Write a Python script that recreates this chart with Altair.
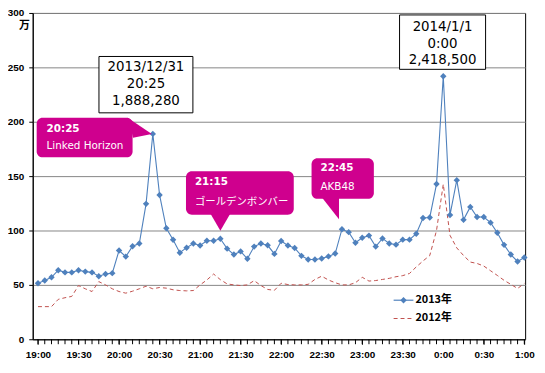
import json
import altair as alt
import pandas as pd

# ---------------- data ----------------
tick_labels = ["19:00", "19:30", "20:00", "20:30", "21:00", "21:30", "22:00",
               "22:30", "23:00", "23:30", "0:00", "0:30", "1:00"]
minutes = list(range(0, 361, 5))  # 19:00 .. 1:00 every 5 minutes
label_minutes = list(range(0, 361, 30))

v2013 = [51.5, 54.0, 57.0, 63.5, 61.5, 61.5, 63.5, 62.2, 61.5, 58.0,
         60.0, 60.8, 81.6, 76.0, 85.5, 88.0, 124.5, 188.8, 132.7, 102.0,
         91.5, 79.5, 84.2, 88.0, 86.2, 90.6, 90.6, 92.4, 83.3, 77.9,
         80.8, 74.0, 85.2, 88.0, 86.4, 78.5, 90.4, 86.2, 83.9, 76.7,
         73.3, 73.4, 74.3, 76.2, 78.8, 101.2, 98.5, 88.8, 93.3, 95.3,
         85.2, 92.7, 88.0, 87.0, 91.6, 91.6, 97.0, 111.5, 112.0, 142.7,
         241.85, 114.3, 146.3, 109.8, 121.7, 112.4, 112.4, 107.2, 97.9, 86.8,
         77.9, 71.5, 75.2]

v2012 = [30.0, 30.0, 30.0, 36.7, 38.2, 39.4, 49.4, 46.4, 43.9, 53.0,
         50.0, 46.4, 43.9, 42.4, 44.2, 46.4, 48.8, 46.4, 47.6, 47.0,
         45.5, 44.8, 44.5, 44.8, 50.0, 54.5, 60.0, 54.8, 50.9, 50.0,
         49.4, 50.0, 53.9, 49.4, 45.8, 45.0, 51.5, 50.3, 50.0, 50.0,
         50.5, 55.0, 58.0, 54.5, 52.0, 50.0, 50.0, 52.0, 57.0, 53.5,
         54.0, 55.0, 56.0, 57.5, 58.5, 60.5, 66.5, 72.0, 77.0, 100.0,
         142.5, 95.5, 84.0, 77.0, 71.0, 69.7, 67.3, 63.0, 58.7, 54.2,
         50.5, 46.7, 51.3]

series_names = ["2013年", "2012年"]
peak_boxes = [
    ["2013/12/31", "20:25", "1,888,280"],
    ["2014/1/1", "0:00", "2,418,500"],
]
callouts = [
    ("20:25", "Linked Horizon", 85, 188.8),
    ("21:15", "ゴールデンボンバー", 135, 92.4),
    ("22:45", "AKB48", 225, 101.2),
]

BLUE = "#4F81BD"
RED = "#C0504D"
MAG = "#CF008E"

df13 = pd.DataFrame({"m": minutes, "v": v2013})
df12 = pd.DataFrame({"m": minutes, "v": v2012})

label_expr = (json.dumps(tick_labels, ensure_ascii=False)
              + "[round(datum.value / 30)]")

xscale = alt.Scale(domain=[-3.9, 360.6], nice=False, zero=False)
yscale = alt.Scale(domain=[0, 300], nice=False)

xaxis = alt.Axis(values=label_minutes, labelExpr=label_expr, tickSize=5, tickColor="black",
                 domainColor="black", labelFont="Liberation Sans", labelFontWeight="bold",
                 labelFontSize=10, labelColor="black", labelOverlap=False, labelFlush=False,
                 grid=False, title=None, labelPadding=5, labelAngle=0)
yaxis = alt.Axis(values=[0, 50, 100, 150, 200, 250, 300], grid=True, gridColor="#868686",
                 tickSize=4, tickColor="black", domainColor="black",
                 labelFont="Liberation Sans", labelFontWeight="bold", labelFontSize=10,
                 labelColor="black", labelPadding=5, title="万", titleAngle=0,
                 titleFont="Noto Sans CJK JP", titleFontWeight="bold", titleFontSize=11,
                 titleColor="black", titleX=-9, titleY=13, titleAlign="center",
                 titleBaseline="middle")

line12 = alt.Chart(df12).mark_line(color=RED, strokeWidth=1, strokeDash=[4, 3]).encode(
    x=alt.X("m:Q", scale=xscale, axis=xaxis),
    y=alt.Y("v:Q", scale=yscale, axis=yaxis),
)
line13 = alt.Chart(df13).mark_line(color=BLUE, strokeWidth=1.1).encode(
    x=alt.X("m:Q", scale=xscale), y=alt.Y("v:Q", scale=yscale))
pts13 = alt.Chart(df13).mark_point(shape="diamond", filled=True, color=BLUE, size=42,
                                   opacity=1).encode(
    x=alt.X("m:Q", scale=xscale), y=alt.Y("v:Q", scale=yscale))
# minor ticks every 5 minutes below the x axis
minor = alt.Chart(df13).mark_rule(color="black", strokeWidth=1).encode(
    x=alt.X("m:Q", scale=xscale), y=alt.value(330), y2=alt.value(335))

one = pd.DataFrame({"a": [0]})
layers = [line12, line13, pts13, minor]


def rect(x1, y1, x2, y2, fill, stroke=None, radius=0):
    kw = dict(fill=fill, cornerRadius=radius)
    if stroke:
        kw.update(stroke=stroke, strokeWidth=1)
    else:
        kw.update(strokeWidth=0)
    return alt.Chart(one).mark_rect(**kw).encode(
        x=alt.value(x1), x2=alt.value(x2), y=alt.value(y1), y2=alt.value(y2))


def text(s, x, y, size=13, color="black", weight="normal", align="center",
         font="DejaVu Sans"):
    return alt.Chart(one).mark_text(text=s, fontSize=size, color=color, fontWeight=weight,
                                    align=align, baseline="middle", font=font).encode(
        x=alt.value(x), y=alt.value(y))


# peak info boxes
box_geo = [(67, 44, 162, 101, 114.5, [55, 72, 89]),
           (371, 2, 458, 57, 414.5, [14, 31, 48])]
for lines, (x1, y1, x2, y2, cx, ys) in zip(peak_boxes, box_geo):
    layers.append(rect(x1, y1, x2, y2, "white", stroke="black"))
    for s, yy in zip(lines, ys):
        layers.append(text(s, cx, yy, size=13.5))

# callouts
call_geo = [
    ((4, 106, 101, 146), (14, 117, 135), "M-1,0 L-25,-16 L-20,4 Z"),
    ((155, 160, 264, 204), (164, 171, 191), "M0,-8 L-11,-27 L11,-27 Z"),
    ((282, 147, 345, 188), (291, 157, 176), "M-3,-10 L-21,-33 L-3,-33 Z"),
]
for (t1, t2, mm, vv), (box, tp, path) in zip(callouts, call_geo):
    layers.append(rect(*box, MAG, radius=6))
    ptr = pd.DataFrame({"m": [mm], "v": [vv]})
    layers.append(alt.Chart(ptr).mark_point(shape=path, size=4, filled=True, color=MAG,
                                            opacity=1, strokeWidth=0).encode(
        x=alt.X("m:Q", scale=xscale), y=alt.Y("v:Q", scale=yscale)))
    layers.append(text(t1, tp[0], tp[1], size=10.5, color="white", weight="bold",
                       align="left"))
    f2 = "Noto Sans CJK JP" if not t2.isascii() else "DejaVu Sans"
    layers.append(text(t2, tp[0], tp[2], size=10.5, color="white",
                       align="left", font=f2))

# legend
layers.append(alt.Chart(one).mark_rule(color=BLUE, strokeWidth=1.2).encode(
    x=alt.value(365), x2=alt.value(385), y=alt.value(290.5)))
layers.append(alt.Chart(one).mark_point(shape="diamond", filled=True, color=BLUE, size=42,
                                        opacity=1).encode(x=alt.value(375),
                                                          y=alt.value(290.5)))
layers.append(alt.Chart(one).mark_rule(color=RED, strokeWidth=1, strokeDash=[4, 3]).encode(
    x=alt.value(365), x2=alt.value(385), y=alt.value(309)))
layers.append(text(series_names[0], 387, 290.5, size=11, weight="bold", align="left",
                   font="Noto Sans CJK JP"))
layers.append(text(series_names[1], 387, 309, size=11, weight="bold", align="left",
                   font="Noto Sans CJK JP"))

chart = alt.layer(*layers).properties(
    width=498, height=330,
    autosize=alt.AutoSizeParams(type="none"),
    padding={"left": 25, "top": 3, "right": 12, "bottom": 24},
    background="white",
).configure_view(stroke="black", strokeWidth=1).configure_axisX(labelOverlap=False)

chart.save("out.html", embed_options={"renderer": "svg", "actions": False})
